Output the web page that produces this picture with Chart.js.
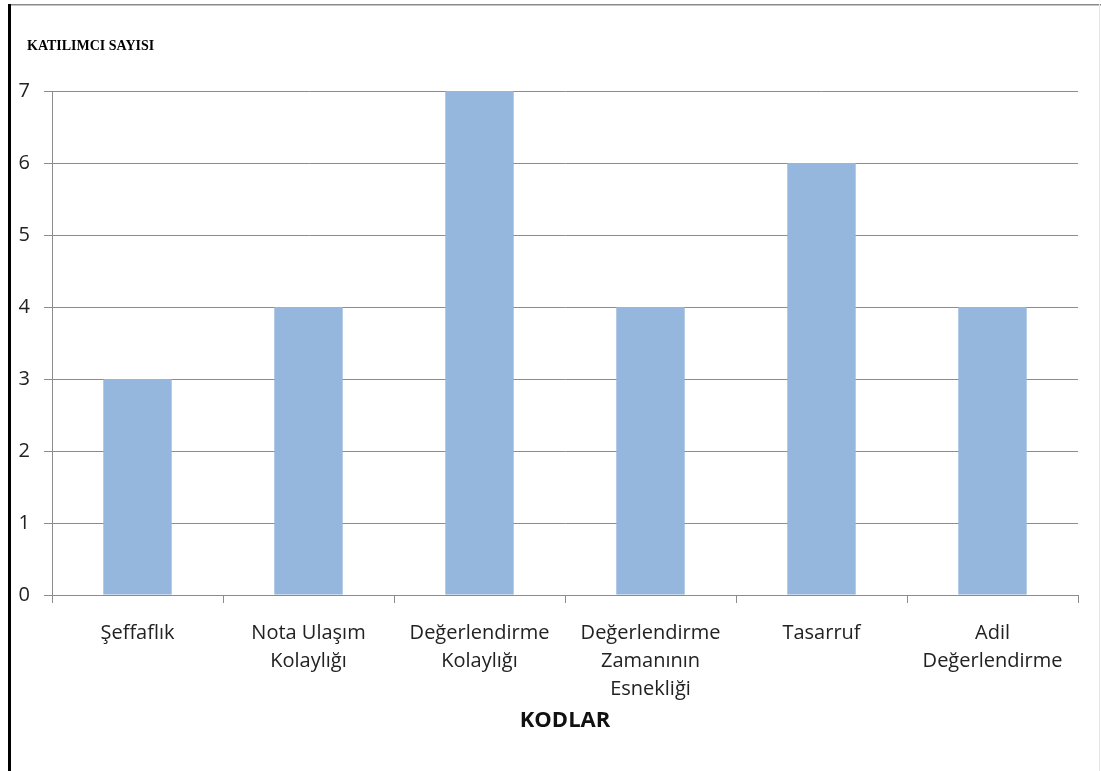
<!DOCTYPE html>
<html>
<head>
<meta charset="utf-8">
<script src="https://cdn.jsdelivr.net/npm/chart.js@4"></script>
<style>
  html, body { margin: 0; padding: 0; background: #fff; }
  #wrap { position: relative; width: 1101px; height: 771px; }
</style>
</head>
<body>
<div id="wrap"><canvas id="chart" width="1101" height="771"></canvas></div>
<script>
// Katılımcı sayısı / kodlar bar chart

const CATEGORIES = [
  ['Şeffaflık'],
  ['Nota Ulaşım', 'Kolaylığı'],
  ['Değerlendirme', 'Kolaylığı'],
  ['Değerlendirme', 'Zamanının', 'Esnekliği'],
  ['Tasarruf'],
  ['Adil', 'Değerlendirme'],
];
const COUNTS = [3, 4, 7, 4, 6, 4];
const Y_MIN = 0;
const Y_MAX = 7;
const Y_TITLE = 'KATILIMCI SAYISI';
const X_TITLE = 'KODLAR';

const BAR = '#95b6dd';
const GRID = '#8c8c8c';
const TEXT = '#222';
const FONT = "'Open Sans', 'Noto Sans', sans-serif";

// frame lines + y title drawn on the canvas
const framePlugin = {
  id: 'frame',
  beforeDraw(chart) {
    const ctx = chart.ctx;
    ctx.save();
    ctx.fillStyle = '#fff';
    ctx.fillRect(0, 0, chart.width, chart.height);
    ctx.fillStyle = '#8a8a8a';
    ctx.fillRect(8, 4, chart.width - 8, 1.5);
    ctx.fillStyle = '#e4e4e4';
    ctx.fillRect(chart.width - 2, 4, 1, chart.height);
    ctx.fillStyle = '#000';
    ctx.fillRect(8, 4, 3, chart.height);
    ctx.restore();
  },
  afterDraw(chart) {
    const ctx = chart.ctx;
    ctx.save();
    ctx.fillStyle = '#000';
    ctx.font = "bold 14px 'Liberation Serif', 'DejaVu Serif', serif";
    ctx.textBaseline = 'alphabetic';
    ctx.fillText(Y_TITLE, 27, 50);
    ctx.restore();
  }
};

new Chart(document.getElementById('chart'), {
  type: 'bar',
  data: {
    labels: CATEGORIES,
    datasets: [{
      data: COUNTS,
      backgroundColor: BAR,
      borderWidth: 0,
      categoryPercentage: 0.8,
      barPercentage: 0.5,
    }],
  },
  options: {
    responsive: false,
    animation: false,
    devicePixelRatio: 1,
    layout: { padding: { left: 0, top: 91, right: 23, bottom: 0 } },
    plugins: {
      legend: { display: false },
      tooltip: { enabled: false },
    },
    scales: {
      x: {
        afterFit: s => { s.height = 176; },
        grid: {
          offset: true,
          drawOnChartArea: false,
          color: GRID,
          tickLength: 8,
        },
        border: { color: GRID, width: 1 },
        ticks: {
          color: TEXT,
          font: { family: FONT, size: 20, lineHeight: 1.4 },
          padding: 16,
          maxRotation: 0,
          autoSkip: false,
        },
        title: {
          display: true,
          text: X_TITLE,
          color: '#111',
          font: { family: FONT, size: 22, weight: 'bold' },
          padding: { top: 0, bottom: 37 },
        },
      },
      y: {
        min: Y_MIN,
        max: Y_MAX,
        afterFit: s => { s.width = 52; },
        grid: { color: GRID, tickLength: 8 },
        border: { color: GRID, width: 1 },
        ticks: {
          stepSize: 1,
          color: TEXT,
          font: { family: FONT, size: 20 },
          padding: 14,
        },
      },
    },
  },
  plugins: [framePlugin],
});
</script>
</body>
</html>
